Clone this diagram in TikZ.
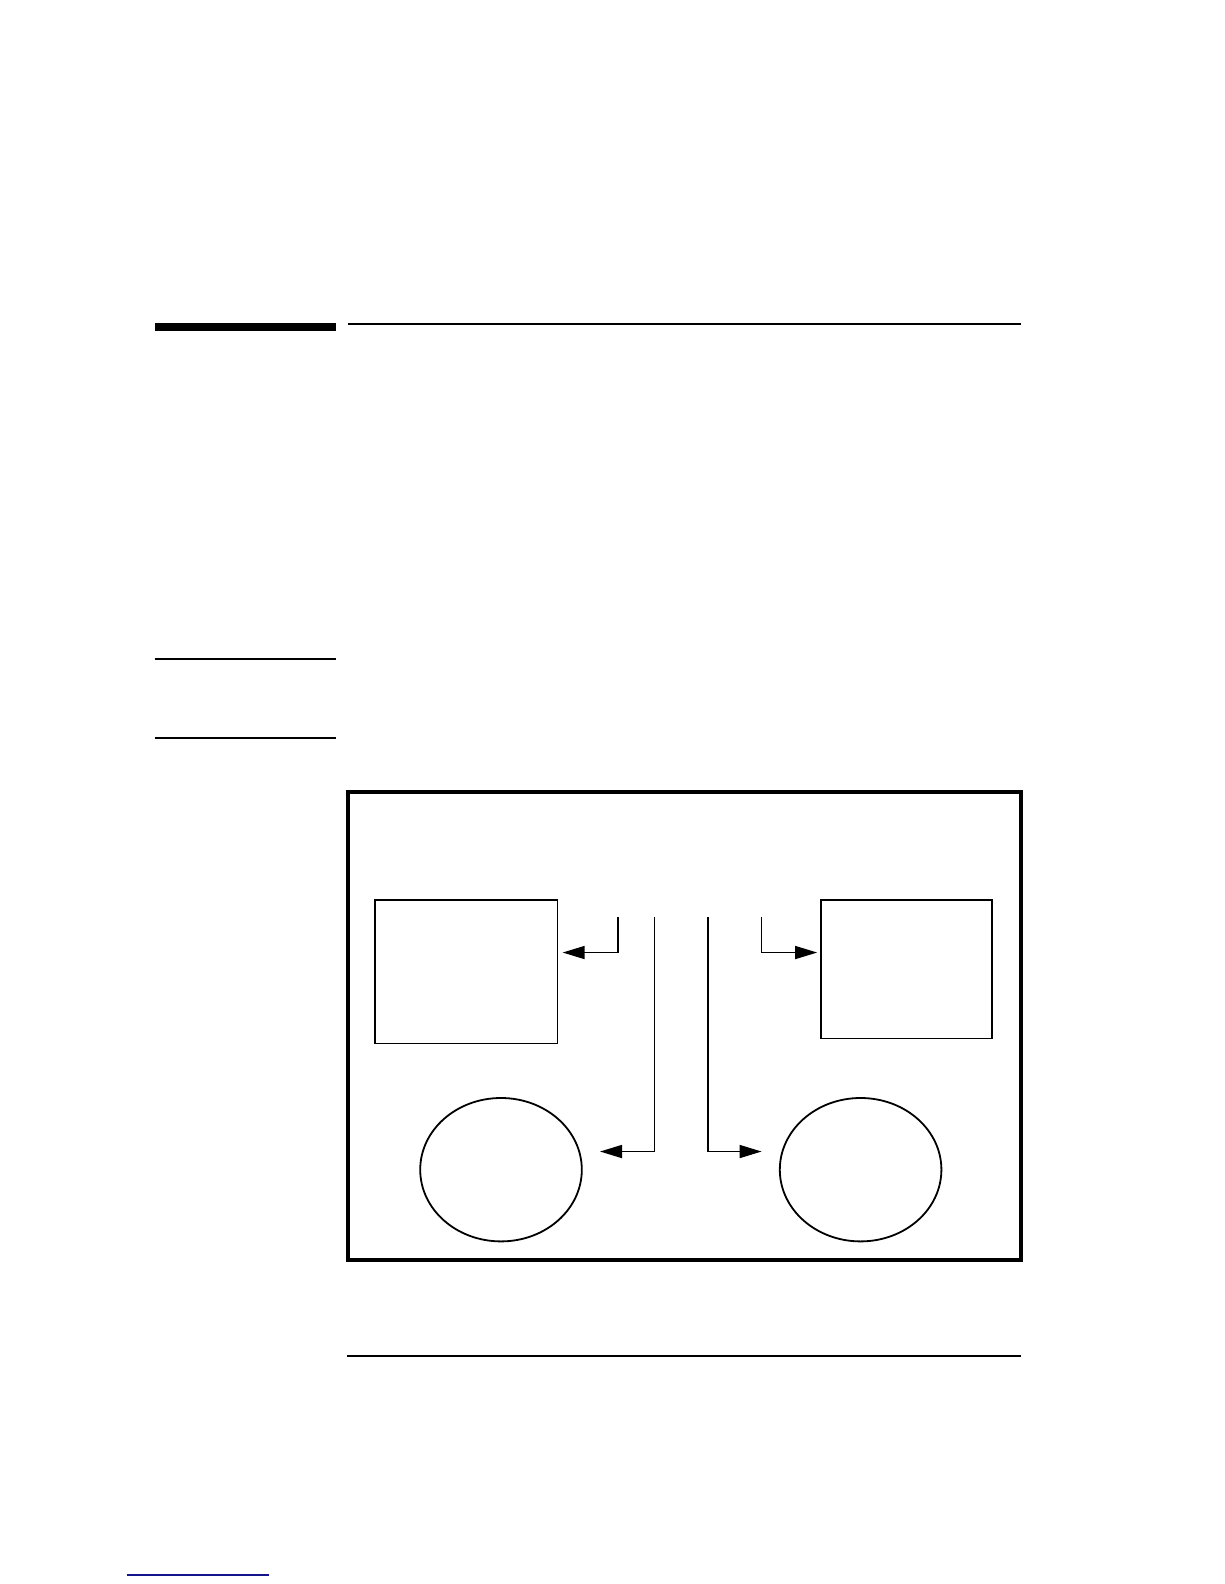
\documentclass[tikz,border=0pt]{standalone}
\usetikzlibrary{arrows.meta,shapes.geometric}
\definecolor{navyline}{RGB}{20,20,140}
\begin{document}
\begin{tikzpicture}[x=1.0101pt,y=-1.0101pt,
  thinbox/.style={draw,line width=1.7pt,minimum width=#1,inner sep=0pt},
  oval/.style={draw,ellipse,line width=1.8pt,minimum width=161.6pt,minimum height=143.4pt,inner sep=0pt},
  conn/.style={line width=1.6pt,-{Triangle[length=22pt,width=13pt]}},
  rule/.style={line width=2pt}]
\useasboundingbox (0,0) rectangle (1211.76,1568.16);
% header rules
\fill (153,320) rectangle (333,328);
\draw[rule] (345,321) -- (1011,321);
\draw[rule] (153,652) -- (333,652);
\draw[rule] (153,731) -- (333,731);
% frame
\node[draw,line width=4pt,minimum width=672.7pt,minimum height=467.7pt,inner sep=0pt] (frame) at (677.5,1016) {};
% boxes
\node[thinbox=182.8pt,minimum height=143.4pt] (boxL) at (461.5,962) {};
\node[thinbox=170.7pt,minimum height=138.4pt] (boxR) at (897.5,959.5) {};
\node[oval] (ovL) at (496,1158) {};
\node[oval] (ovR) at (852,1158) {};
% connectors
\coordinate (s1) at (612,908); \coordinate (t1) at (557,943);
\coordinate (s2) at (648,908); \coordinate (t2) at (594,1140);
\coordinate (s3) at (701,908); \coordinate (t3) at (754,1140);
\coordinate (s4) at (754,908); \coordinate (t4) at (809,943);
\draw[conn] (s1) |- (t1);
\draw[conn] (s2) |- (t2);
\draw[conn] (s3) |- (t3);
\draw[conn] (s4) |- (t4);
% bottom rule
\draw[rule] (344,1342) -- (1011,1342);
\draw[navyline,line width=1.6pt] (125.7,1559.3) -- (266.3,1559.3);
\end{tikzpicture}
\end{document}
